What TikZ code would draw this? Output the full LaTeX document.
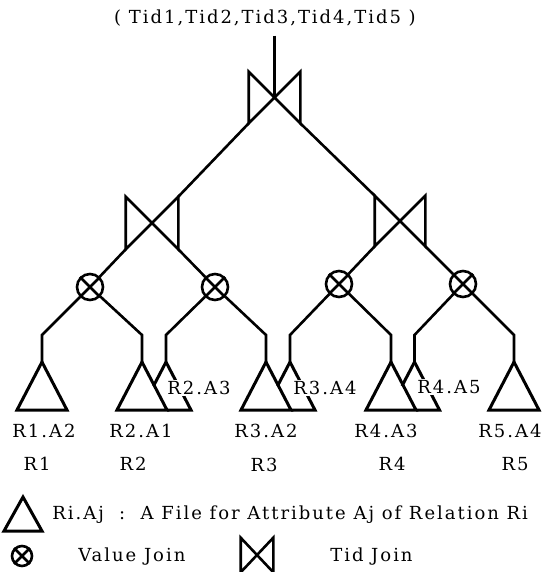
\documentclass[tikz,border=0pt]{standalone}
\usepackage{fontspec}
\setmainfont{DejaVu Serif}[LetterSpace=11]
\usetikzlibrary{calc}
\newcommand\tidjoin[1]{\draw[line join=miter] (#1.north west) -- (#1.south east) -- (#1.north east) -- (#1.south west) -- cycle;}
\newcommand\valjoin[1]{\draw (#1.north west) -- (#1.south east) (#1.north east) -- (#1.south west);}
\newcommand\filetri[1]{\draw[tri] (#1) -- ++(-25,48) -- ++(50,0) -- cycle;}
\begin{document}
\begin{tikzpicture}[x=1pt,y=-1pt, line width=2.6pt,
  lbl/.style={font=\fontsize{18}{20}\selectfont, inner sep=1pt},
  vj/.style={circle, draw, minimum size=26pt, inner sep=0pt},
  tj/.style={rectangle, minimum width=49pt, minimum height=49pt, inner sep=0pt},
  tri/.style={line width=3pt, line join=miter}]
\useasboundingbox (0,0) rectangle (558,572);
% top label
\node[lbl] (top) at (265,18) {( Tid1,Tid2,Tid3,Tid4,Tid5 )};
% tid joins
\node[tj] (tb) at (274.5,97.5) {};
\node[tj, minimum width=50pt, minimum height=50pt] (lb) at (152,223) {};
\node[tj, minimum width=48pt, minimum height=48pt] (rb) at (400,221) {};
\tidjoin{tb}\tidjoin{lb}\tidjoin{rb}
% value joins
\node[vj] (c1) at (90,287) {};
\node[vj] (c2) at (215,287) {};
\node[vj] (c3) at (339,284) {};
\node[vj] (c4) at (463,284) {};
\valjoin{c1}\valjoin{c2}\valjoin{c3}\valjoin{c4}
% apexes and elbows
\foreach \n/\x in {t1/42, t2/142, b2/166, t3/266, b3/290, t4/391, b4/414.5, t5/514}{
  \coordinate (\n) at (\x,362);
  \coordinate (e\n) at (\x,335);
}
% connectors
\path (tb.center |- top.south) ++(0,7) coordinate (vtop);
\draw (vtop) -- (tb.center);
\draw (tb.south west) -- (lb.north east);
\draw (tb.south east) -- (rb.north west);
\draw (lb.south west) -- (c1);
\draw (lb.south east) -- (c2);
\draw (rb.south west) -- (c3);
\draw (rb.south east) -- (c4);
\draw (c1) -- (et1) -- (t1);
\draw (c1) -- (et2) -- (t2);
\draw (c2) -- (eb2) -- (b2);
\draw (c2) -- (et3) -- (t3);
\draw (c3) -- (eb3) -- (b3);
\draw (c3) -- (et4) -- (t4);
\draw (c4) -- (eb4) -- (b4);
\draw (c4) -- (et5) -- (t5);
% partly hidden files
\foreach \b/\f in {b2/t2, b3/t3, b4/t4}{
  \draw[tri] (\b) -- ++(-12.5,24);
  \draw[tri] (\b) -- ++(25,48) -- ($(\f)+(25,48)$);
}
\node[lbl, fill=white] (l23) at (199,388) {R2.A3};
\node[lbl, fill=white] (l34) at (325,388) {R3.A4};
\node[lbl, fill=white] (l45) at (449,387) {R4.A5};
% files
\filetri{t1}\filetri{t2}\filetri{t3}\filetri{t4}\filetri{t5}
% file labels
\node[lbl] (l12) at (44,431) {R1.A2};
\node[lbl] (l21) at (141,431) {R2.A1};
\node[lbl] (l32) at (266,431) {R3.A2};
\node[lbl] (l43) at (386,431) {R4.A3};
\node[lbl] (l54) at (510,431) {R5.A4};
% relation labels
\node[lbl] (r1) at (37,464) {R1};
\node[lbl] (r2) at (133,464) {R2};
\node[lbl] (r3) at (264,465) {R3};
\node[lbl] (r4) at (392,464) {R4};
\node[lbl] (r5) at (515,464) {R5};
% legend
\coordinate (lt) at (23,497);
\draw[tri] (lt) -- ++(-19,34) -- ++(38,0) -- cycle;
\node[lbl, anchor=west] (ltx) at (50,515) {Ri.Aj\ \ :\ \ A File for Attribute Aj of Relation Ri};
\node[vj, minimum size=20pt] (lc) at (22,556) {};
\valjoin{lc}
\node[lbl, anchor=west] (lcx) at (76,557) {Value\ Join};
\node[tj, minimum width=30pt, minimum height=32pt] (lb2) at (257,555) {};
\tidjoin{lb2}
\node[lbl, anchor=west] (lbx) at (328,557) {Tid\ Join};
\end{tikzpicture}
\end{document}
